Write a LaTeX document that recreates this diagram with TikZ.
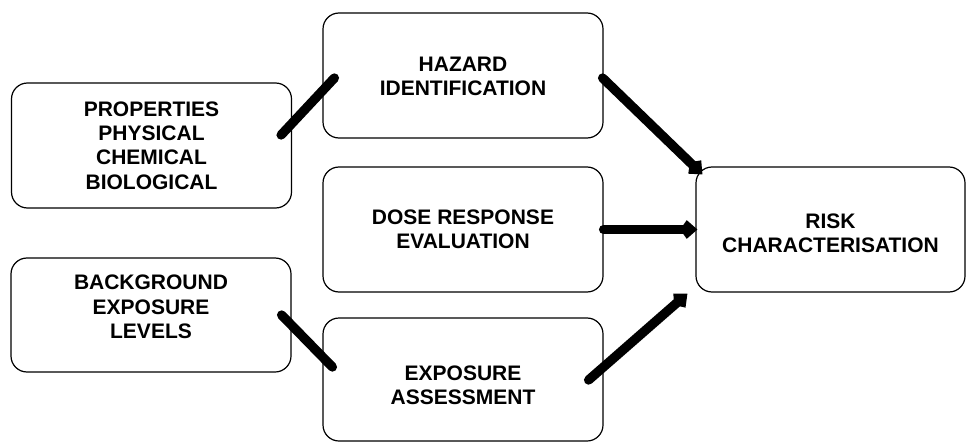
\documentclass[tikz,border=0pt]{standalone}
\usepackage{fontspec}
\setmainfont{Liberation Sans}
\usetikzlibrary{arrows.meta,calc}
\begin{document}
\begin{tikzpicture}[x=0.75pt,y=-0.75pt,
  box/.style={draw=black,line width=0.9pt,rounded corners=12pt,fill=white,
    minimum width=210pt,align=center,inner sep=0pt,
    font=\fontsize{15.75}{18.3}\selectfont\bfseries},
  lab/.style={align=center,inner sep=0pt,font=\fontsize{15.75}{18.3}\selectfont\bfseries},
  link/.style={line width=7pt,line cap=round},
  flow/.style={line width=7pt,line cap=round,-{Kite[length=13pt,width=14pt,inset=5pt]}}]
\useasboundingbox (0,0) rectangle (966,442);
\node[box,minimum height=93.75pt] (prop) at (151.5,145.5) {PROPERTIES\\PHYSICAL\\CHEMICAL\\BIOLOGICAL};
\node[box,minimum height=93.75pt] (haz) at (463,75.5) {\\[-6pt]HAZARD\\IDENTIFICATION};
\node[box,minimum height=93.75pt] (dose) at (463,229.5) {DOSE RESPONSE\\EVALUATION};
\node[box,minimum height=85.5pt] (bg) at (151,315) {};
\node[lab] at (151,307) {BACKGROUND\\EXPOSURE\\LEVELS};
\node[box,minimum height=92.25pt] (exp) at (463,379.5) {};
\node[lab] at (463,385) {EXPOSURE\\ASSESSMENT};
\node[box,minimum height=93.75pt,minimum width=201.75pt] (risk) at (830.5,229.5) {};
\node[lab] at (830.5,233.5) {RISK\\CHARACTERISATION};
\draw[link] ($(prop.east)+(-11,-10.5)$) -- ($(haz.west)+(12,2.5)$);
\draw[link] ($(bg.east)+(-10,0)$) -- ($(exp.west)+(10,-12.5)$);
\draw[flow] ($(haz.east)+(-1,2.5)$) -- ($(risk.north west)+(7,8)$);
\draw[flow] (dose.east) -- ($(risk.west)+(2,0)$);
\draw[flow] ($(exp.east)+(-15,0.5)$) -- ($(risk.south west)+(-8,1)$);
\end{tikzpicture}
\end{document}
